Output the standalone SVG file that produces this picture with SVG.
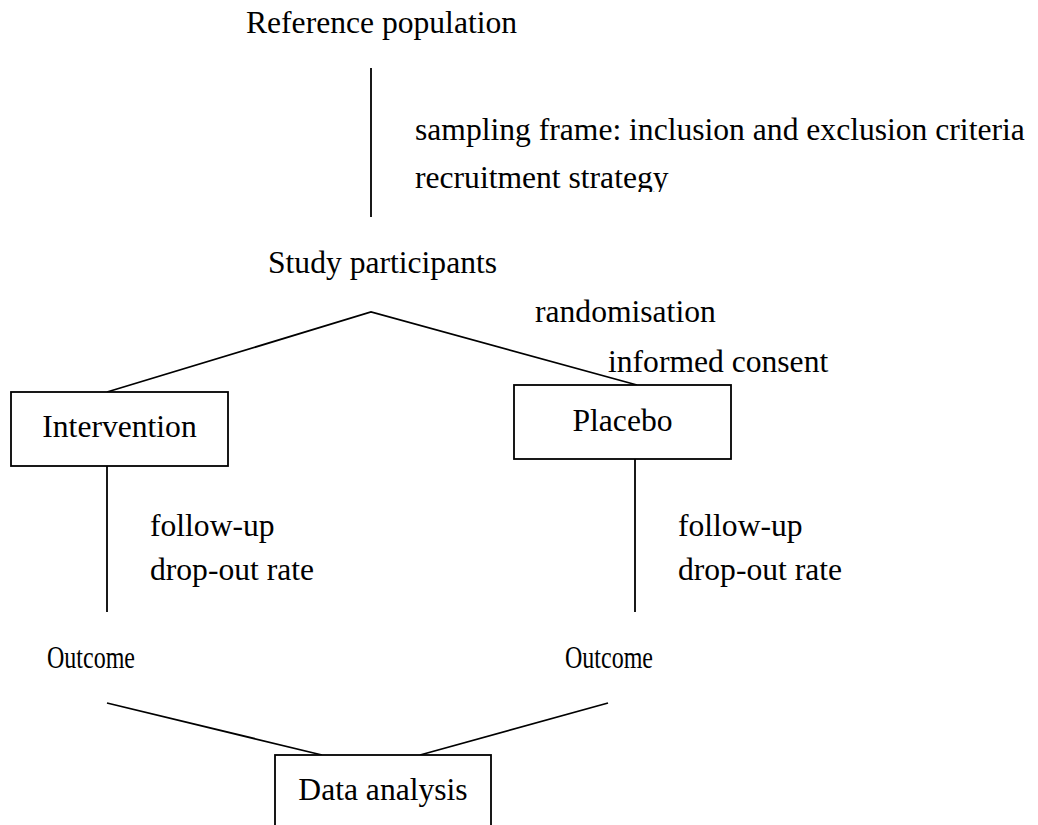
<svg xmlns="http://www.w3.org/2000/svg" width="1038" height="825" viewBox="0 0 1038 825">
<style>
text{font-family:"Liberation Serif","Times New Roman",serif;font-size:31.6px;fill:#000}
.box{fill:#fff;stroke:#000;stroke-width:1.8}
.ln{stroke:#000;stroke-width:1.8;fill:none}
</style>
<defs><clipPath id="c1"><rect x="400" y="150" width="400" height="42"/></clipPath></defs>
<rect width="1038" height="825" fill="#fff"/>
<g id="connectors">
<line class="ln" x1="371" y1="68" x2="371" y2="217"/>
<polyline class="ln" points="107,392 371,312 637,385"/>
<line class="ln" x1="107" y1="466" x2="107" y2="612"/>
<line class="ln" x1="635" y1="459" x2="635" y2="612"/>
<line class="ln" x1="107" y1="703" x2="322" y2="755"/>
<line class="ln" x1="608" y1="703" x2="420" y2="755"/>
</g>
<g id="reference"><text x="246" y="33">Reference population</text></g>
<g id="sampling-label"><text x="415" y="140">sampling frame: inclusion and exclusion criteria</text>
<text x="415" y="188" clip-path="url(#c1)">recruitment strategy</text></g>
<g id="participants"><text x="268" y="273">Study participants</text></g>
<g id="randomisation-label"><text x="535" y="322">randomisation</text><text x="608" y="372">informed consent</text></g>
<g id="intervention"><rect class="box" x="11" y="392" width="217" height="74"/><text x="119.5" y="437" text-anchor="middle">Intervention</text></g>
<g id="placebo"><rect class="box" x="514" y="385" width="217" height="74"/><text x="622.5" y="431" text-anchor="middle">Placebo</text></g>
<g id="followup-left"><text x="150" y="536">follow-up</text><text x="150" y="580">drop-out rate</text></g>
<g id="followup-right"><text x="678" y="536">follow-up</text><text x="678" y="580">drop-out rate</text></g>
<g id="outcome-left"><text x="47" y="668" textLength="88" lengthAdjust="spacingAndGlyphs">Outcome</text></g>
<g id="outcome-right"><text x="565" y="668" textLength="88" lengthAdjust="spacingAndGlyphs">Outcome</text></g>
<g id="data-analysis"><rect class="box" x="275" y="755" width="216" height="80"/><text x="383" y="800" text-anchor="middle">Data analysis</text></g>
</svg>
